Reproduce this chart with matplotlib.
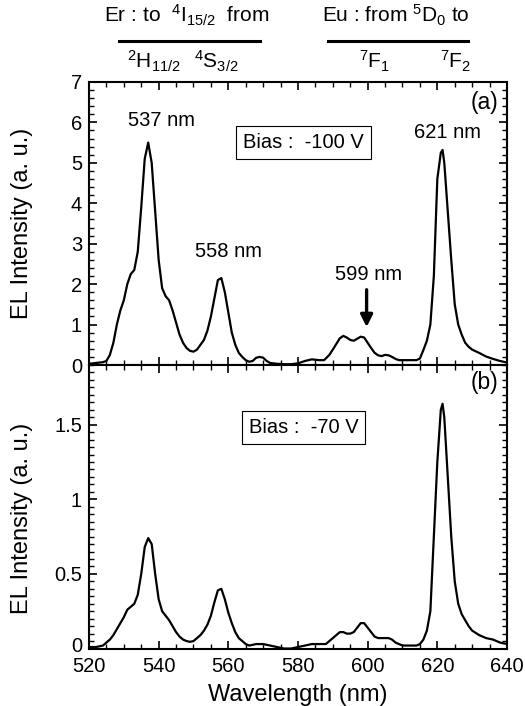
import numpy as np
import matplotlib
matplotlib.use('Agg')
import matplotlib.pyplot as plt
from matplotlib.lines import Line2D
from matplotlib.ticker import MultipleLocator
from matplotlib.transforms import ScaledTranslation

plt.rcParams['font.family'] = ['Liberation Sans', 'DejaVu Sans']
plt.rcParams['mathtext.fontset'] = 'custom'
plt.rcParams['mathtext.rm'] = 'Liberation Sans'
plt.rcParams['mathtext.it'] = 'Liberation Sans'

# Panel (a): bias -100 V
wl_a = [520, 522, 524, 525, 526, 527, 528, 529, 530, 531, 532, 533, 534, 535, 536, 537, 538, 539,
        540, 541, 542, 543, 544, 545, 546, 547, 548, 549, 550, 551, 552, 553, 554, 555, 556, 557,
        558, 559, 560, 561, 562, 563, 564, 565, 566, 567, 568, 569, 570, 571, 572, 574, 576, 578,
        580, 582, 584, 586, 587.5, 589, 590.5, 592, 593, 594, 595, 596, 597, 598, 599, 600, 601, 602,
        603, 604, 605, 606, 607, 608, 609, 610, 612, 614, 615, 616, 617, 618, 619, 620, 621, 621.5,
        622, 623, 624, 625, 626, 627, 628, 629, 630, 632, 634, 636, 638, 640]
el_a = [0.03, 0.05, 0.07, 0.1, 0.25, 0.55, 1.0, 1.35, 1.6, 2.0, 2.25, 2.35, 2.8, 3.9, 5.1, 5.5, 5.0, 3.8,
        2.6, 1.9, 1.7, 1.6, 1.35, 1.05, 0.75, 0.55, 0.42, 0.35, 0.33, 0.38, 0.5, 0.62, 0.85, 1.2, 1.65, 2.1,
        2.15, 1.8, 1.3, 0.8, 0.5, 0.3, 0.2, 0.12, 0.08, 0.1, 0.18, 0.2, 0.18, 0.1, 0.05, 0.03, 0.02, 0.02,
        0.04, 0.1, 0.14, 0.12, 0.12, 0.25, 0.45, 0.66, 0.72, 0.68, 0.62, 0.6, 0.65, 0.7, 0.68, 0.55, 0.42, 0.3,
        0.24, 0.22, 0.25, 0.24, 0.2, 0.15, 0.12, 0.12, 0.12, 0.12, 0.16, 0.37, 0.6, 1.0, 2.2, 4.6, 5.25, 5.32,
        5.0, 3.8, 2.6, 1.5, 1.0, 0.75, 0.55, 0.45, 0.38, 0.3, 0.21, 0.15, 0.1, 0.06]

# Panel (b): bias -70 V
wl_b = [520, 522, 524, 525, 526, 527, 528, 529, 530, 531, 532, 533, 534, 535, 536, 537, 538, 539,
        540, 541, 542, 543, 544, 545, 546, 547, 548, 549, 550, 551, 552, 553, 554, 555, 556, 557,
        558, 559, 560, 561, 562, 563, 564, 565, 566, 568, 570, 572, 574, 576, 578, 580, 582, 584,
        586, 588, 590, 591, 592, 593, 594, 595, 596, 597, 598, 599, 600, 601, 602, 603, 604, 605,
        606, 607, 608, 609, 610, 612, 614, 615, 616, 617, 618, 619, 620, 621, 621.5, 622, 623, 624,
        625, 626, 627, 628, 629, 630, 632, 634, 636, 638, 640]
el_b = [0.01, 0.01, 0.02, 0.04, 0.06, 0.09, 0.13, 0.17, 0.21, 0.26, 0.28, 0.3, 0.36, 0.5, 0.68, 0.74, 0.7, 0.5,
        0.33, 0.25, 0.22, 0.19, 0.15, 0.11, 0.08, 0.06, 0.05, 0.045, 0.05, 0.07, 0.09, 0.12, 0.16, 0.22, 0.31, 0.39,
        0.40, 0.33, 0.24, 0.17, 0.11, 0.07, 0.05, 0.03, 0.02, 0.03, 0.03, 0.02, 0.01, 0.0, 0.0, 0.01, 0.02, 0.03,
        0.03, 0.03, 0.07, 0.09, 0.11, 0.11, 0.1, 0.1, 0.11, 0.14, 0.17, 0.17, 0.14, 0.11, 0.08, 0.07, 0.07, 0.07,
        0.07, 0.06, 0.04, 0.03, 0.02, 0.02, 0.02, 0.03, 0.06, 0.12, 0.25, 0.75, 1.25, 1.6, 1.64, 1.55, 1.15, 0.75,
        0.45, 0.3, 0.23, 0.19, 0.15, 0.12, 0.09, 0.07, 0.06, 0.04, 0.03]

fig = plt.figure(figsize=(5.25, 7.06), dpi=100)
ax1 = fig.add_axes([0.1695, 0.483, 0.7962, 0.4009])
ax2 = fig.add_axes([0.1695, 0.0814, 0.7962, 0.4016], sharex=ax1)

ax1.plot(wl_a, el_a, color='black', lw=1.6)
ax2.plot(wl_b, el_b, color='black', lw=1.6)

for ax in (ax1, ax2):
    ax.set_xlim(520, 640)
    ax.xaxis.set_major_locator(MultipleLocator(20))
    ax.xaxis.set_minor_locator(MultipleLocator(5))
    ax.tick_params(which='both', direction='in', top=True, right=True, labelsize=14.5)
    ax.tick_params(axis='x', pad=6)
    ax.tick_params(axis='y', pad=5)
    ax.tick_params(which='major', length=6, width=1.2)
    ax.tick_params(which='minor', length=3.5, width=1.0)
    for s in ax.spines.values():
        s.set_linewidth(1.5)
    ax.set_ylabel('EL Intensity (a. u.)', fontsize=17)

ax1.set_ylim(0, 7)
ax1.yaxis.set_major_locator(MultipleLocator(1))
ax1.yaxis.set_minor_locator(MultipleLocator(0.2))
ax1.tick_params(labelbottom=False)
ax1.yaxis.set_label_coords(-0.134, 0.5)

ax2.set_ylim(0, 1.9)
ax2.set_yticks([0, 0.5, 1, 1.5])
ax2.set_yticklabels(['0', '0.5', '1', '1.5'])
ax2.yaxis.set_minor_locator(MultipleLocator(0.05))
ax2.yaxis.set_label_coords(-0.134, 0.46)
ax2.set_xlabel('Wavelength (nm)', fontsize=17, labelpad=6)

# lift the bottom "0" a little so it clears the 520 label
zero_lbl = ax2.yaxis.get_major_ticks()[0].label1
zero_lbl.set_transform(zero_lbl.get_transform() + ScaledTranslation(0, 3 / 72, fig.dpi_scale_trans))

# peak labels
ax1.text(540.7, 6.05, '537 nm', ha='center', va='center', fontsize=14.5)
ax1.text(560, 2.8, '558 nm', ha='center', va='center', fontsize=14.5)
ax1.text(600.3, 2.23, '599 nm', ha='center', va='center', fontsize=14.5)
ax1.text(622.9, 5.74, '621 nm', ha='center', va='center', fontsize=14.5)
ax1.annotate('', xy=(599.7, 0.87), xytext=(599.7, 1.93),
             arrowprops=dict(arrowstyle='-|>', lw=2.4, color='black', mutation_scale=18))
ax1.text(637.5, 6.5, '(a)', ha='right', va='center', fontsize=16.5)
ax2.text(637.5, 1.78, '(b)', ha='right', va='center', fontsize=16.5)

box = dict(boxstyle='square,pad=0.35', fc='white', ec='black', lw=0.8)
ax1.text(581.6, 5.5, 'Bias :  -100 V', ha='center', va='center', fontsize=14.5, bbox=box)
ax2.text(581.6, 1.48, 'Bias :  -70 V', ha='center', va='center', fontsize=14.5, bbox=box)

# transition labels above the chart
W, H = 525.0, 706.0
fig.text(187 / W, 1 - 23 / H, r'Er : to  $^{4}$I$_{15/2}$  from', ha='center', va='baseline', fontsize=15)
fig.add_artist(Line2D([119 / W, 260 / W], [1 - 41 / H, 1 - 41 / H], color='black', lw=2.2))
fig.text(154 / W, 1 - 68 / H, r'$^{2}$H$_{11/2}$', ha='center', va='baseline', fontsize=15)
fig.text(216 / W, 1 - 68 / H, r'$^{4}$S$_{3/2}$', ha='center', va='baseline', fontsize=15)
fig.text(396 / W, 1 - 23 / H, r'Eu : from $^{5}$D$_{0}$ to', ha='center', va='baseline', fontsize=15)
fig.add_artist(Line2D([328 / W, 468 / W], [1 - 41 / H, 1 - 41 / H], color='black', lw=2.2))
fig.text(375 / W, 1 - 68 / H, r'$^{7}$F$_{1}$', ha='center', va='baseline', fontsize=15)
fig.text(456 / W, 1 - 68 / H, r'$^{7}$F$_{2}$', ha='center', va='baseline', fontsize=15)

fig.savefig('out.png', dpi=100)
